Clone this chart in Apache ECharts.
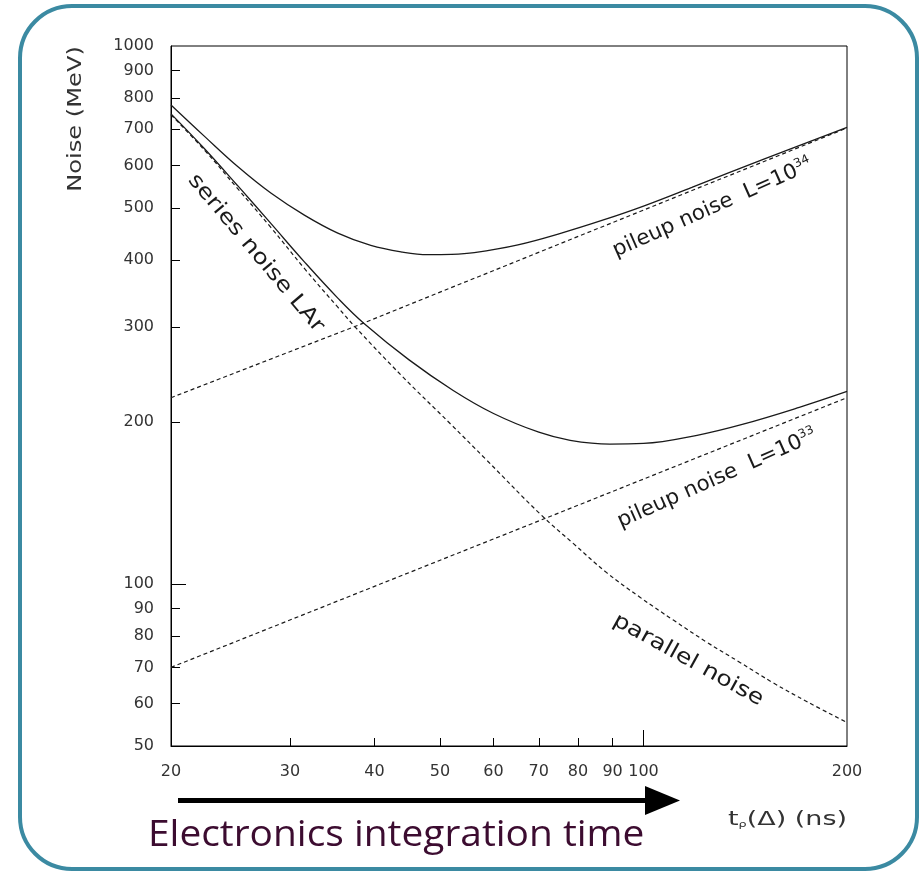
<!DOCTYPE html>
<html>
<head>
<meta charset="utf-8">
<script src="https://cdn.jsdelivr.net/npm/echarts@6/dist/echarts.min.js"></script>
<style>
  html, body { margin: 0; padding: 0; background: #ffffff; }
  #chart { width: 920px; height: 872px; }
</style>
</head>
<body>
<div id="chart"></div>
<script>
// Electronic (series + parallel) noise vs shaping time t_p (ns), in MeV
const electronicTime = [20, 22.4, 25.1, 28.1, 31.5, 35.3, 37.4, 44, 51.7, 58.6, 70.3, 78.7, 88.2, 98.8, 110.7, 124, 138.9, 155.6, 174.3, 200];
const electronicNoise = [745, 641, 543, 460, 386, 327, 301, 243, 199, 170, 135, 119, 105, 94.5, 85.7, 78, 71.5, 65.5, 60.5, 55.3];

// Pileup noise at L = 10^34 and L = 10^33 (straight lines on log-log axes)
const pileup34Time = [20, 37.4, 200];
const pileup34Noise = [222, 301, 704];
const pileup33Time = [20, 72.7, 200];
const pileup33Noise = [70, 133.5, 222];

// Total noise at L = 10^34
const total34Time = [20, 22.4, 25.1, 28.1, 31.5, 35.3, 39.5, 44, 48, 52, 56.2, 65.2, 75.6, 87.7, 100, 117.9, 150, 200];
const total34Noise = [777, 680, 597, 533, 485, 449, 426, 414, 409.5, 410, 413, 427, 449, 476, 504, 546, 615, 706];

// Total noise at L = 10^33
const total33Time = [20, 22.4, 25.1, 28.1, 31.5, 35.3, 38.6, 45, 52.3, 60, 70, 77.9, 89.2, 100, 120, 140, 170, 200];
const total33Noise = [748, 645, 550, 468, 397, 340, 305, 261, 229, 207.5, 191.5, 185, 182, 182.5, 189, 198, 213, 228];

// Axis ticks and labels
const xTickLabels = [20, 30, 40, 50, 60, 70, 80, 90, 100, 200];
const xShortTicks = [30, 40, 50, 60, 70, 80, 90];
const xLongTicks = [100];
const yTickLabels = [50, 60, 70, 80, 90, 100, 200, 300, 400, 500, 600, 700, 800, 900, 1000];
const yShortTicks = [60, 70, 80, 90, 200, 300, 400, 500, 600, 700, 800, 900];
const yLongTicks = [100];

const pairs = (xs, ys) => xs.map((t, i) => [t, ys[i]]);

const INK = '#1a1a1a';
const LABEL_FONT = 'DejaVu Sans';

const chart = echarts.init(document.getElementById('chart'), null, { renderer: 'canvas' });

function logAxis(extra) {
  return Object.assign({
    type: 'log',
    logBase: 10,
    splitLine: { show: false },
    axisLine: { show: true, onZero: false, lineStyle: { color: '#000', width: 1 } }
  }, extra);
}

const tickLabelStyle = {
  fontFamily: LABEL_FONT, fontSize: 16, color: '#333',
  formatter: (v) => String(Math.round(v))
};

const lineBase = {
  type: 'line',
  showSymbol: false,
  symbol: 'none',
  silent: true,
  z: 3
};
const dashed = { color: INK, width: 1.2, type: [4, 3] };
const solid = { color: INK, width: 1.3 };

chart.setOption({
  animation: false,
  backgroundColor: '#ffffff',
  grid: {
    left: 171, right: 73, top: 46, bottom: 126,
    show: true, borderColor: '#000', borderWidth: 1, backgroundColor: 'transparent'
  },
  xAxis: [
    logAxis({
      min: 20, max: 200, position: 'bottom',
      axisTick: { show: true, inside: true, length: 8, customValues: xShortTicks, lineStyle: { color: '#000' } },
      axisLabel: Object.assign({ margin: 18, customValues: xTickLabels }, tickLabelStyle)
    }),
    logAxis({
      min: 20, max: 200, position: 'bottom',
      axisLine: { show: false },
      axisTick: { show: true, inside: true, length: 16, customValues: xLongTicks, lineStyle: { color: '#000' } },
      axisLabel: { show: false }
    })
  ],
  yAxis: [
    logAxis({
      min: 50, max: 1000, position: 'left',
      axisTick: { show: true, inside: true, length: 9, customValues: yShortTicks, lineStyle: { color: '#000' } },
      axisLabel: Object.assign({ margin: 17, customValues: yTickLabels }, tickLabelStyle)
    }),
    logAxis({
      min: 50, max: 1000, position: 'left',
      axisLine: { show: false },
      axisTick: { show: true, inside: true, length: 15, customValues: yLongTicks, lineStyle: { color: '#000' } },
      axisLabel: { show: false }
    })
  ],
  series: [
    Object.assign({}, lineBase, {
      name: 'electronic noise', smooth: 0.4,
      data: pairs(electronicTime, electronicNoise), lineStyle: dashed
    }),
    Object.assign({}, lineBase, {
      name: 'pileup noise L=1e34', smooth: false,
      data: pairs(pileup34Time, pileup34Noise), lineStyle: dashed
    }),
    Object.assign({}, lineBase, {
      name: 'pileup noise L=1e33', smooth: false,
      data: pairs(pileup33Time, pileup33Noise), lineStyle: dashed
    }),
    Object.assign({}, lineBase, {
      name: 'total noise L=1e34', smooth: 0.4,
      data: pairs(total34Time, total34Noise), lineStyle: solid
    }),
    Object.assign({}, lineBase, {
      name: 'total noise L=1e33', smooth: 0.4,
      data: pairs(total33Time, total33Noise), lineStyle: solid
    })
  ]
});

// Curve annotations, anchored in data coordinates
const curveNotes = [
  { id: 'n-series', text: 'series noise LAr', anchor: [26.7, 412], angle: -50, stretch: 1.2 },
  { id: 'n-pile34', text: 'pileup noise  L=10{sup|34}', anchor: [126.5, 500], angle: 24, stretch: 1.02 },
  { id: 'n-pile33', text: 'pileup noise  L=10{sup|33}', anchor: [128.5, 157], angle: 24, stretch: 1.02 },
  { id: 'n-parallel', text: 'parallel noise', anchor: [116.4, 72.2], angle: -29, stretch: 1.2 }
];

const noteGraphics = curveNotes.map((n) => {
  const p = chart.convertToPixel({ xAxisIndex: 0, yAxisIndex: 0 }, n.anchor);
  return {
    type: 'text', id: n.id, x: p[0], y: p[1],
    rotation: n.angle * Math.PI / 180,
    scaleX: n.stretch, scaleY: 1,
    z: 10,
    style: {
      text: n.text,
      fontFamily: LABEL_FONT, fontSize: 21, fill: INK,
      align: 'center', verticalAlign: 'middle',
      rich: {
        sup: { fontFamily: LABEL_FONT, fontSize: 12, fill: INK, verticalAlign: 'top', padding: [0, 0, 12, 0] }
      }
    }
  };
});

chart.setOption({
  graphic: [
    // rounded slide frame
    {
      type: 'rect', id: 'frame', z: 0,
      shape: { x: 20, y: 6, width: 897, height: 863, r: 52 },
      style: { fill: 'none', stroke: '#3b8aa2', lineWidth: 4 }
    },
    // y axis title
    {
      type: 'text', id: 'ytitle', x: 76, y: 119, rotation: Math.PI / 2, scaleX: 1.27, z: 10,
      style: {
        text: 'Noise (MeV)', fontFamily: LABEL_FONT, fontSize: 19, fill: '#333',
        align: 'center', verticalAlign: 'middle'
      }
    },
    // x axis title
    {
      type: 'text', id: 'xtitle', x: 728, y: 820, scaleX: 1.42, z: 10,
      style: {
        text: 't{sub|ρ}(Δ) (ns)', fontFamily: LABEL_FONT, fontSize: 19, fill: '#333',
        align: 'left', verticalAlign: 'middle',
        rich: { sub: { fontFamily: LABEL_FONT, fontSize: 9, fill: '#333', verticalAlign: 'bottom' } }
      }
    },
    // arrow
    {
      type: 'line', id: 'arrow-shaft', z: 10,
      shape: { x1: 178, y1: 800.5, x2: 650, y2: 800.5 },
      style: { stroke: '#000', lineWidth: 5 }
    },
    {
      type: 'polygon', id: 'arrow-head', z: 10,
      shape: { points: [[645, 786], [680, 800.5], [645, 815]] },
      style: { fill: '#000' }
    },
    {
      type: 'text', id: 'caption', x: 148, y: 836, scaleX: 1.08, z: 10,
      style: {
        text: 'Electronics integration time', fontFamily: 'Open Sans', fontSize: 36,
        fill: '#3c0c30', align: 'left', verticalAlign: 'middle'
      }
    }
  ].concat(noteGraphics)
});
</script>
</body>
</html>
